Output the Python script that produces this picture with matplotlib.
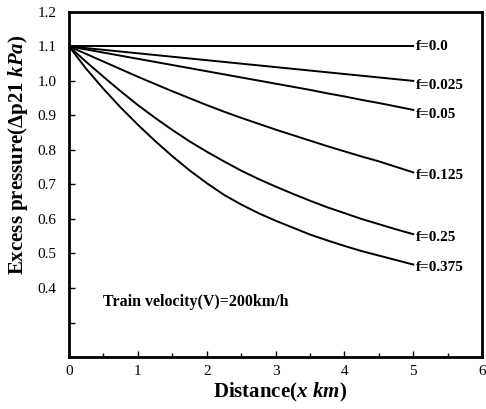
import matplotlib
matplotlib.use("Agg")
import matplotlib.pyplot as plt
from matplotlib.ticker import MultipleLocator, FixedLocator

plt.rcParams['font.family'] = ['Liberation Serif', 'DejaVu Serif']
plt.rcParams['mathtext.fontset'] = 'custom'
plt.rcParams['mathtext.it'] = 'Liberation Serif:italic:bold'
plt.rcParams['mathtext.rm'] = 'Liberation Serif:bold'

# Data
x = [0, 0.25, 0.5, 0.75, 1.0, 1.25, 1.5, 1.75, 2.0, 2.25, 2.5,
     2.75, 3.0, 3.25, 3.5, 3.75, 4.0, 4.25, 4.5, 4.75, 5.0]
f_labels = ["f=0.0", "f=0.025", "f=0.05", "f=0.125", "f=0.25", "f=0.375"]
f00  = [1.10] * 21
f025 = [1.100, 1.095, 1.090, 1.085, 1.080, 1.075, 1.070, 1.065, 1.060, 1.055, 1.050,
        1.045, 1.040, 1.035, 1.030, 1.025, 1.020, 1.015, 1.010, 1.005, 1.000]
f05  = [1.100, 1.091, 1.082, 1.073, 1.064, 1.055, 1.046, 1.037, 1.028, 1.019, 1.010,
        1.001, 0.992, 0.983, 0.974, 0.964, 0.955, 0.945, 0.936, 0.926, 0.916]
f125 = [1.100, 1.078, 1.056, 1.034, 1.012, 0.991, 0.970, 0.950, 0.930, 0.911, 0.893,
        0.876, 0.859, 0.843, 0.827, 0.811, 0.796, 0.781, 0.767, 0.751, 0.735]
f25  = [1.100, 1.055, 1.012, 0.970, 0.930, 0.893, 0.858, 0.825, 0.795, 0.767, 0.740,
        0.716, 0.694, 0.673, 0.653, 0.634, 0.617, 0.600, 0.585, 0.570, 0.556]
f375 = [1.100, 1.035, 0.977, 0.923, 0.873, 0.826, 0.782, 0.741, 0.704, 0.670, 0.642,
        0.617, 0.595, 0.575, 0.555, 0.538, 0.522, 0.507, 0.494, 0.481, 0.468]
series = [f00, f025, f05, f125, f25, f375]
label_dy = [0.0, -0.012, -0.012, -0.008, -0.010, -0.010]

fig = plt.figure(figsize=(4.86, 4.09), dpi=100)
ax = fig.add_axes([0.142, 0.127, 0.850, 0.844])

for ys, lab, dy in zip(series, f_labels, label_dy):
    ax.plot(x, ys, color='black', lw=1.4)
    ax.text(x[-1] + 0.04, ys[-1] + dy, lab, fontsize=11, fontweight='bold',
            va='center', ha='left')

ax.text(0.49, 0.36, "Train velocity(V)=200km/h", fontsize=11.5, fontweight='bold',
        va='center', ha='left')

ax.set_xlim(0, 6)
ax.set_ylim(0.2, 1.2)
ax.xaxis.set_major_locator(MultipleLocator(1))
ax.xaxis.set_minor_locator(MultipleLocator(0.5))
ax.yaxis.set_major_locator(FixedLocator([0.3, 0.4, 0.5, 0.6, 0.7, 0.8, 0.9, 1.0, 1.1, 1.2]))
ax.set_yticklabels(["", "0.4", "0.5", "0.6", "0.7", "0.8", "0.9", "1.0", "1.1", "1.2"])
ax.tick_params(axis='both', which='both', direction='in', labelsize=11)
ax.tick_params(axis='both', which='major', length=4, width=1)
ax.tick_params(axis='both', which='minor', length=3, width=1)
ax.tick_params(axis='x', pad=6)
ax.tick_params(axis='y', pad=9)
for s in ax.spines.values():
    s.set_linewidth(2)

ax.set_xlabel(r"Distance($x\ km$)", fontsize=15, fontweight='bold')
ax.set_ylabel(r"Excess pressure($\Delta$p21 $kPa$)", fontsize=15, fontweight='bold')
ax.xaxis.set_label_coords(0.51, -0.07)
ax.yaxis.set_label_coords(-0.094, 0.585)

fig.savefig("out.png", dpi=100)
